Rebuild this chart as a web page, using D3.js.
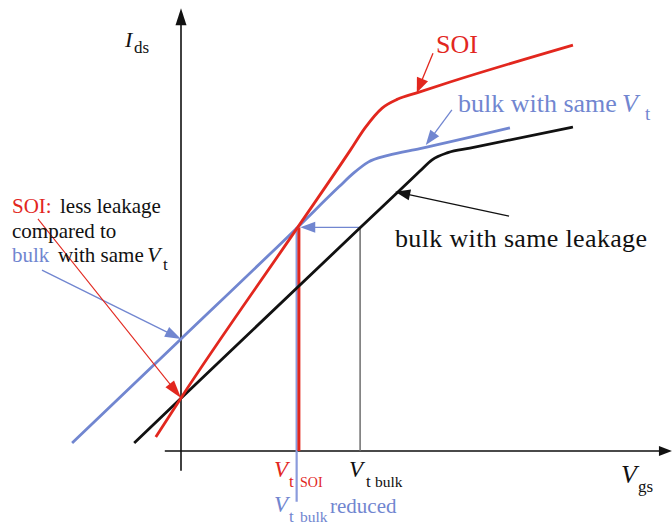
<!DOCTYPE html>
<html><head><meta charset="utf-8">
<script src="https://cdn.jsdelivr.net/npm/d3@7"></script>
<style>
html,body{margin:0;padding:0;background:#fff;}
svg{display:block;font-family:"Liberation Serif","Times New Roman",serif;}
</style></head><body>
<svg id="chart" width="672" height="525"></svg>
<script>
// Idealised Ids–Vgs transfer characteristics, arbitrary units [Vgs, Ids]
const soiCurve = [
  [-0.56,0.31],[0,1.18],[2.60,4.98],[3.76,6.68],[4.09,7.18],[4.47,7.62],
  [4.82,7.82],[5.24,7.96],[5.98,8.20],[8.71,9.02]
];
const bulkSameVtCurve = [
  [-2.42,0.18],[0,2.49],[2.60,4.98],[3.51,5.87],[3.84,6.18],[4.16,6.42],
  [4.60,6.57],[5.31,6.72],[7.31,7.18]
];
const bulkSameLeakCurve = [
  [-1.04,0.18],[0,1.17],[3.98,4.96],[5.09,6.01],[5.31,6.22],[5.58,6.47],
  [5.93,6.63],[6.42,6.73],[8.71,7.20]
];

// threshold voltages and the current level at which they are read
const vtSOI = 2.62;
const vtBulkReduced = 2.57;
const vtBulk = 3.98;
const idsAtVt = 4.97;
const vtBulkReducedLabelDepth = -1.13;

// axis extents
const vgsRange = [-0.36, 10.91];
const idsRange = [-0.44, 9.84];

const RED = "#e2271e", BLUE = "#7186d0", BLACK = "#111", GRAY = "#6e6e6e";

const svg = d3.select("#chart");
const x = d3.scaleLinear().domain([0, 10]).range([181, 631]);
const y = d3.scaleLinear().domain([0, 10]).range([451, 1]);

// filled-head arrow from p0 to p1 (data units)
function arrow(g, p0, p1, color, w, headLen, headHalf) {
  const x0 = x(p0[0]), y0 = y(p0[1]), x1 = x(p1[0]), y1 = y(p1[1]);
  const a = Math.atan2(y1 - y0, x1 - x0);
  const bx = x1 - headLen * Math.cos(a), by = y1 - headLen * Math.sin(a);
  const px = -Math.sin(a) * headHalf, py = Math.cos(a) * headHalf;
  g.append("line").attr("x1", x0).attr("y1", y0).attr("x2", bx + Math.cos(a)).attr("y2", by + Math.sin(a))
    .attr("stroke", color).attr("stroke-width", w);
  g.append("polygon")
    .attr("points", [[x1, y1], [bx + px, by + py], [bx - px, by - py]].map(p => p.join(",")).join(" "))
    .attr("fill", color);
}

// axes
const axes = svg.append("g");
axes.append("line").attr("x1", x(vgsRange[0])).attr("x2", x(vgsRange[1]) - 10)
  .attr("y1", y(0)).attr("y2", y(0)).attr("stroke", "#4a4a4a").attr("stroke-width", 2);
axes.append("polygon")
  .attr("points", `${x(vgsRange[1])},${y(0)} ${x(vgsRange[1]) - 13},${y(0) - 5} ${x(vgsRange[1]) - 13},${y(0) + 5}`)
  .attr("fill", BLACK);
axes.append("line").attr("x1", x(0)).attr("x2", x(0))
  .attr("y1", y(idsRange[0])).attr("y2", y(idsRange[1]) + 12).attr("stroke", BLACK).attr("stroke-width", 1.6);
axes.append("polygon")
  .attr("points", `${x(0)},${y(idsRange[1])} ${x(0) - 5.5},${y(idsRange[1]) + 17} ${x(0) + 5.5},${y(idsRange[1]) + 17}`)
  .attr("fill", BLACK);

// threshold construction lines
const guides = svg.append("g");
guides.append("line").attr("x1", x(vtBulk)).attr("x2", x(vtBulk))
  .attr("y1", y(idsAtVt)).attr("y2", y(0)).attr("stroke", GRAY).attr("stroke-width", 1.5);
guides.append("line").attr("x1", x(vtBulkReduced)).attr("x2", x(vtBulkReduced))
  .attr("y1", y(idsAtVt)).attr("y2", y(vtBulkReducedLabelDepth)).attr("stroke", "#8b9bdc").attr("stroke-width", 2.2);
guides.append("line").attr("x1", x(vtSOI)).attr("x2", x(vtSOI))
  .attr("y1", y(idsAtVt)).attr("y2", y(0)).attr("stroke", RED).attr("stroke-width", 3);
arrow(guides, [vtBulk, idsAtVt], [vtSOI + 0.03, idsAtVt], BLUE, 1.3, 15, 5.5);

// characteristic curves
const line = d3.line().x(d => x(d[0])).y(d => y(d[1])).curve(d3.curveMonotoneX);
const curves = svg.append("g").attr("fill", "none").attr("stroke-linejoin", "round");
curves.append("path").datum(bulkSameLeakCurve).attr("d", line).attr("stroke", BLACK).attr("stroke-width", 2.8);
curves.append("path").datum(bulkSameVtCurve).attr("d", line).attr("stroke", BLUE).attr("stroke-width", 2.8);
curves.append("path").datum(soiCurve).attr("d", line).attr("stroke", RED).attr("stroke-width", 2.8);

// annotation arrows
const notes = svg.append("g");
arrow(notes, [5.60, 8.84], [5.24, 7.96], RED, 1.3, 15, 6);
arrow(notes, [6.02, 7.58], [5.44, 6.80], BLUE, 1.3, 15, 5.5);
arrow(notes, [7.29, 5.22], [4.76, 5.76], BLACK, 1.3, 15, 5.5);
arrow(notes, [-3.09, 4.02], [0, 2.49], BLUE, 1.3, 16, 5.5);
arrow(notes, [-3.18, 5.16], [0, 1.18], RED, 1.1, 18, 5.5);

// text
const t = svg.append("g");
function label(str, px, py, size, color, italic) {
  return t.append("text").attr("x", px).attr("y", py).attr("font-size", size)
    .attr("fill", color).attr("font-style", italic ? "italic" : null).text(str);
}
// axis titles
label("I", 125, 47, 22, BLACK, true);
label("ds", 134, 53, 17, BLACK);
label("V", 621, 483, 26, BLACK, true);
label("gs", 638, 492, 17, BLACK);

// curve names
label("SOI", 436, 53, 26, RED);
label("bulk with same", 458, 112, 26, BLUE);
label("V", 622, 112, 26, BLUE, true);
label("t", 645, 120, 19, BLUE);
label("bulk with same leakage", 395, 247, 26, BLACK)
  .attr("textLength", 252).attr("lengthAdjust", "spacing");

// left-hand note
label("SOI:", 12, 213, 21, RED);
label("less leakage", 60, 213, 21, BLACK);
label("compared to", 12, 238, 21, BLACK);
label("bulk", 12, 262, 21, BLUE);
label("with same", 58, 262, 21, BLACK);
label("V", 147, 262, 22, BLACK, true);
label("t", 163, 270, 17, BLACK);

// threshold labels
label("V", 274, 477, 23, RED, true);
label("t", 289, 487, 17, RED);
label("SOI", 300, 487, 14, RED);
label("V", 349, 477, 23, BLACK, true);
label("t", 366, 487, 17, BLACK);
label("bulk", 375, 487, 15.5, BLACK);
label("V", 274, 512, 23, BLUE, true);
label("t", 289, 522, 17, BLUE);
label("bulk", 300, 522, 15.5, BLUE);
label("reduced", 330, 513, 21, BLUE);
</script>
</body></html>
